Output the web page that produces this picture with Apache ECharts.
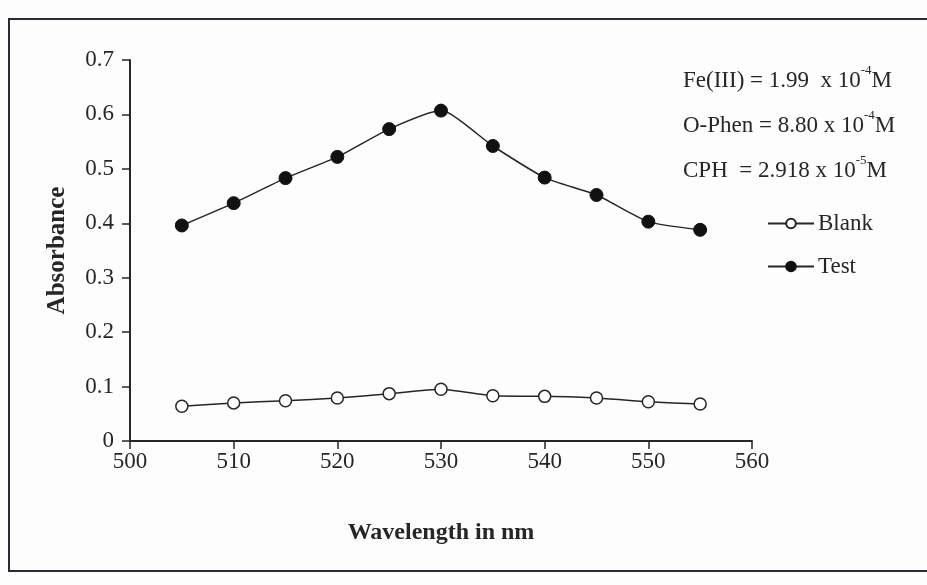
<!DOCTYPE html>
<html>
<head>
<meta charset="utf-8">
<script src="https://cdn.jsdelivr.net/npm/echarts@6/dist/echarts.min.js"></script>
<style>
  html, body { margin: 0; padding: 0; background: #fdfdfd; }
  #chart { width: 927px; height: 585px; }
</style>
</head>
<body>
<div id="chart"></div>
<script>
// wavelength (nm) and absorbance
var wavelengths = [505, 510, 515, 520, 525, 530, 535, 540, 545, 550, 555];
var blankValues = [0.064, 0.070, 0.074, 0.079, 0.087, 0.095, 0.083, 0.082, 0.079, 0.072, 0.068];
var testValues = [0.396, 0.437, 0.483, 0.522, 0.573, 0.607, 0.542, 0.484, 0.452, 0.403, 0.388];
var noteLines = [
  ["Fe(III) = 1.99  x 10", "-4", "M"],
  ["O-Phen = 8.80 x 10", "-4", "M"],
  ["CPH  = 2.918 x 10", "-5", "M"]
];

var ink = "#262626";
var serif = "Liberation Serif";

function pairs(vals) {
  return wavelengths.map(function (w, i) { return [w, vals[i]]; });
}

var myChart = echarts.init(document.getElementById("chart"));

var notes = noteLines.map(function (l, i) {
  return {
    type: "text",
    left: 683,
    top: 64 + i * 45,
    style: {
      text: "{m|" + l[0] + "}{s|" + l[1] + "}{m|" + l[2] + "}",
      rich: {
        m: { fontSize: 23, fontFamily: serif, fill: ink, lineHeight: 28, verticalAlign: "bottom" },
        s: { fontSize: 13, fontFamily: serif, fill: ink, lineHeight: 28, verticalAlign: "top" }
      }
    }
  };
});

var option = {
  backgroundColor: "#fdfdfd",
  animation: false,
  grid: { left: 130, top: 60, width: 622, height: 381 },
  legend: {
    orient: "vertical",
    left: 762,
    top: 207,
    itemGap: 20,
    itemWidth: 46,
    itemHeight: 12,
    data: ["Blank", "Test"],
    textStyle: { fontFamily: serif, fontSize: 23, color: ink, padding: [0, 0, 0, -1] }
  },
  graphic: [
    {
      type: "rect",
      shape: { x: 9, y: 19, width: 940, height: 552 },
      style: { fill: "none", stroke: "#2a2a3a", lineWidth: 2 }
    }
  ].concat(notes),
  xAxis: {
    type: "value",
    min: 500,
    max: 560,
    interval: 10,
    name: "Wavelength in nm",
    nameLocation: "middle",
    nameGap: 80,
    nameTextStyle: { fontFamily: serif, fontSize: 24, fontWeight: "bold", color: ink },
    axisLine: { onZero: false, lineStyle: { color: ink, width: 2 } },
    axisTick: { show: true, length: 8, lineStyle: { color: ink, width: 1.5 } },
    axisLabel: { fontFamily: serif, fontSize: 23, color: ink, margin: 9 },
    splitLine: { show: false }
  },
  yAxis: {
    type: "value",
    min: 0,
    max: 0.7,
    interval: 0.1,
    name: "Absorbance",
    nameLocation: "middle",
    nameGap: 60,
    nameTextStyle: { fontFamily: serif, fontSize: 25, fontWeight: "bold", color: ink },
    axisLine: { show: true, lineStyle: { color: ink, width: 2 } },
    axisTick: { show: true, length: 8, lineStyle: { color: ink, width: 1.5 } },
    axisLabel: {
      fontFamily: serif, fontSize: 23, color: ink, margin: 16,
      formatter: function (v) { return v === 0 ? "0" : v.toFixed(1); }
    },
    splitLine: { show: false }
  },
  series: [
    {
      name: "Blank",
      type: "line",
      smooth: 0.2,
      data: pairs(blankValues),
      symbol: "circle",
      symbolSize: 12,
      itemStyle: { color: "#ffffff", borderColor: ink, borderWidth: 1.5 },
      lineStyle: { color: ink, width: 1.5 }
    },
    {
      name: "Test",
      type: "line",
      smooth: 0.2,
      data: pairs(testValues),
      symbol: "circle",
      symbolSize: 13,
      itemStyle: { color: "#111111", borderColor: "#111111", borderWidth: 1 },
      lineStyle: { color: ink, width: 1.5 }
    }
  ]
};

myChart.setOption(option);
window.addEventListener("resize", function () {
  myChart.resize();
});
</script>
</body>
</html>
